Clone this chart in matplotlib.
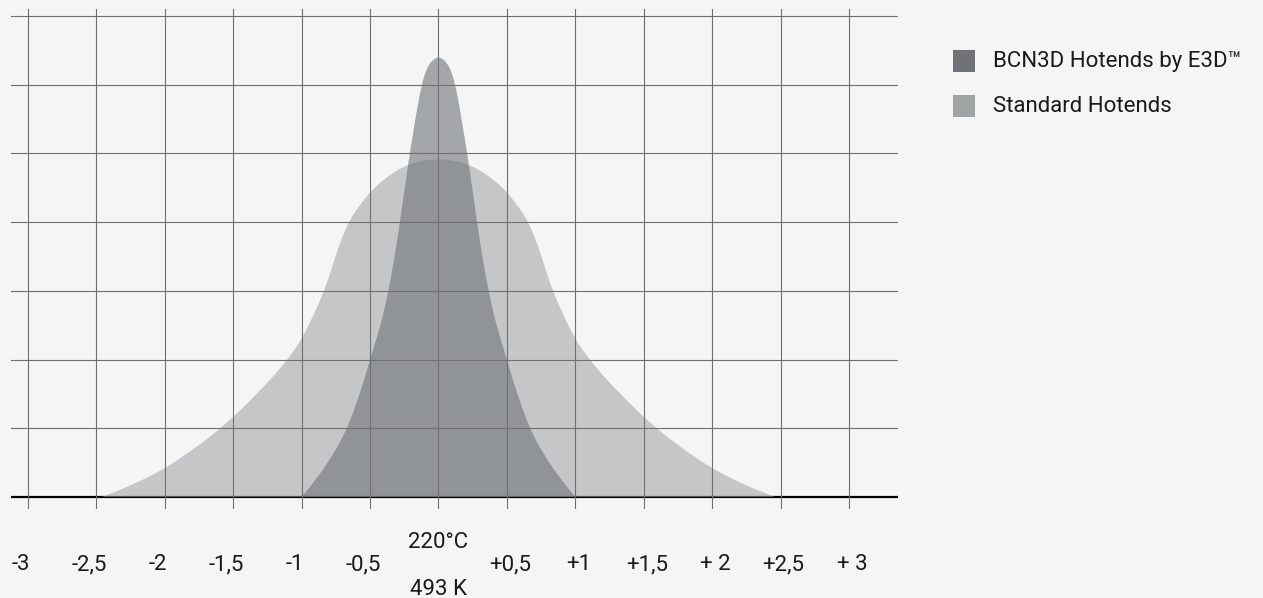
# -*- coding: utf-8 -*-

import matplotlib.pyplot as plt
import matplotlib.transforms as mtransforms
from matplotlib.patches import Rectangle, PathPatch
from matplotlib.path import Path

plt.rcParams['font.family'] = ['Roboto', 'DejaVu Sans']

# colours
BG = '#f5f5f5'
GRID = '#707070'
TEXT = '#1a1a1a'
BCN_COLOR = '#6f7377'
STD_COLOR = '#a0a3a4'

# x axis: deviation from the set temperature
tick_values = [-3, -2.5, -2, -1.5, -1, -0.5, 0, 0.5, 1, 1.5, 2, 2.5, 3]
tick_labels = ['-3', '-2,5', '-2', '-1,5', '-1', '-0,5', '',
               '+0,5', '+1', '+1,5', '+ 2', '+2,5', '+ 3']
center_top = '220°C'
center_bottom = '493 K'

# half curves, from the centre outwards
# (both curves are symmetric around 220°C)
std_half_x = [0, 0.1, 0.2, 0.3, 0.4, 0.5, 0.6, 0.65, 0.7, 0.75, 0.8, 0.85,
              0.9, 1.0, 1.1, 1.2, 1.3, 1.4, 1.5, 1.6, 1.7, 1.8, 1.9, 2.0,
              2.1, 2.2, 2.3, 2.4, 2.46]
std_half_y = [4.92, 4.90, 4.85, 4.76, 4.62, 4.44, 4.18, 4.02, 3.80, 3.52,
              3.20, 2.93, 2.70, 2.29, 2.01, 1.77, 1.56, 1.355, 1.165, 0.99,
              0.83, 0.685, 0.545, 0.42, 0.31, 0.215, 0.125, 0.045, 0.0]

bcn_half_x = [0, 0.025, 0.05, 0.075, 0.1, 0.125, 0.15, 0.2, 0.25, 0.3, 0.35,
              0.4, 0.45, 0.5, 0.55, 0.6, 0.65, 0.7, 0.75, 0.8, 0.85, 0.9,
              0.95, 1.0]
bcn_half_y = [6.40, 6.38, 6.34, 6.27, 6.16, 5.97, 5.72, 5.13, 4.45, 3.75,
              3.15, 2.68, 2.32, 2.0, 1.66, 1.36, 1.09, 0.87, 0.69, 0.53,
              0.38, 0.25, 0.12, 0.0]


def mirror(half_x, half_y):
    xs = [-x for x in half_x[::-1]] + half_x[1:]
    ys = half_y[::-1] + half_y[1:]
    return xs, ys


def smooth_area(xs, ys):
    # quadratic curve through the midpoints, read points as controls
    pts = list(zip(xs, ys))
    verts = [pts[0], ((pts[0][0] + pts[1][0]) / 2, (pts[0][1] + pts[1][1]) / 2)]
    codes = [Path.MOVETO, Path.LINETO]
    for i in range(1, len(pts) - 1):
        mid = ((pts[i][0] + pts[i + 1][0]) / 2, (pts[i][1] + pts[i + 1][1]) / 2)
        verts += [pts[i], mid]
        codes += [Path.CURVE3, Path.CURVE3]
    verts += [pts[-1], (xs[-1], 0), (xs[0], 0), pts[0]]
    codes += [Path.LINETO, Path.LINETO, Path.LINETO, Path.CLOSEPOLY]
    return Path(verts, codes)


std_x, std_y = mirror(std_half_x, std_half_y)
bcn_x, bcn_y = mirror(bcn_half_x, bcn_half_y)

fig = plt.figure(figsize=(12.63, 5.98), dpi=100, facecolor=BG)
ax = fig.add_axes([11 / 1263, 89 / 598, 887 / 1263, 500 / 598])
ax.set_facecolor(BG)
ax.set_xlim(-3.124, 3.358)
ax.set_ylim(-0.175, 7.1)
ax.axis('off')

# baseline (sits below the fills)
ax.axhline(0, color='black', lw=1.6, zorder=1)

# fills
ax.add_patch(PathPatch(smooth_area(std_x, std_y), facecolor=STD_COLOR,
                       alpha=0.565, lw=0, zorder=2))
ax.add_patch(PathPatch(smooth_area(bcn_x, bcn_y), facecolor=BCN_COLOR,
                       alpha=0.6, lw=0, zorder=2))

# grid on top
for xv in tick_values:
    ax.axvline(xv, color=GRID, lw=0.8, zorder=3)
for yv in range(1, 8):
    ax.axhline(yv, color=GRID, lw=0.8, zorder=3)

# tick labels
trans = mtransforms.blended_transform_factory(ax.transData, fig.transFigure)
for xv, lab in zip(tick_values, tick_labels):
    shift = -7 if xv < 0 else 3
    t = mtransforms.offset_copy(trans, fig=fig, x=shift, y=0, units='dots')
    ax.text(xv, 28 / 598, lab, transform=t, ha='center', va='baseline',
            fontsize=16, color=TEXT, clip_on=False)
ax.text(0, 50 / 598, center_top, transform=trans, ha='center', va='baseline',
        fontsize=16, color=TEXT, clip_on=False)
ax.text(0, 3 / 598, center_bottom, transform=trans, ha='center', va='baseline',
        fontsize=16, color=TEXT, clip_on=False)

# legend
legend_items = [('BCN3D Hotends by E3D™', BCN_COLOR, 50),
                ('Standard Hotends', STD_COLOR, 95)]
for label, color, top in legend_items:
    fig.patches.append(Rectangle((953 / 1263, (598 - top - 22) / 598),
                                 22 / 1263, 22 / 598, transform=fig.transFigure,
                                 facecolor=color, edgecolor='none'))
    fig.text(993 / 1263, (598 - top - 17) / 598, label, ha='left',
             va='baseline', fontsize=16, color=TEXT)

fig.savefig('out.png', dpi=100, facecolor=BG)
